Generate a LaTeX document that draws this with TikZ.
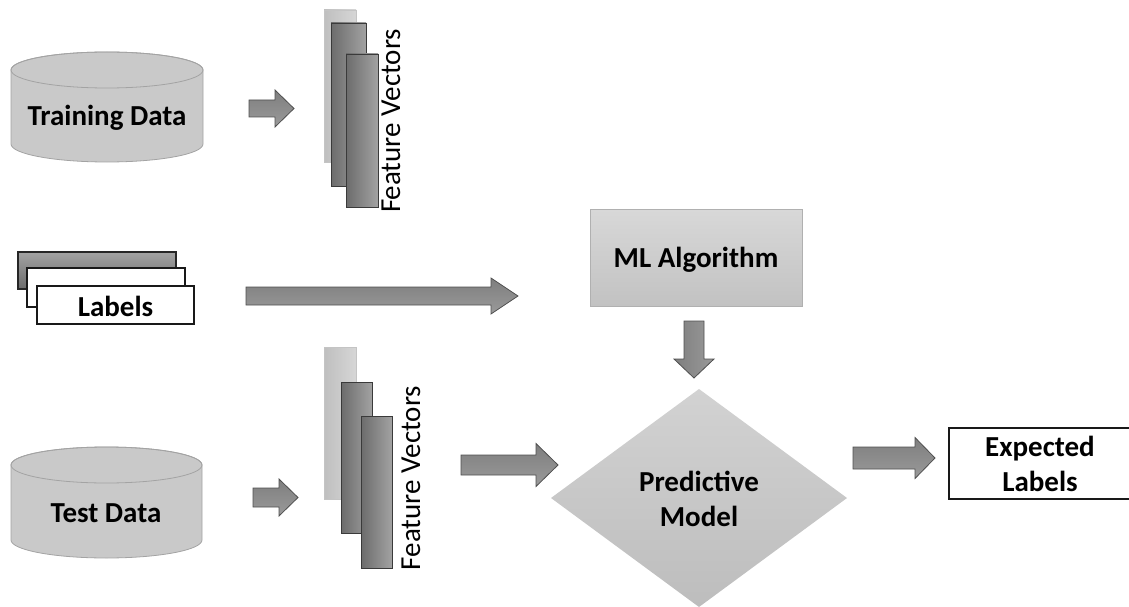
\documentclass[tikz,border=0pt]{standalone}
\usepackage{fontspec}
\setmainfont{Carlito}
\definecolor{arrowedge}{HTML}{4F4F4F}
\definecolor{arrowtop}{HTML}{7E7E7E}
\definecolor{arrowbot}{HTML}{9A9A9A}
\definecolor{cylfill}{HTML}{C9C9C9}
\definecolor{cyledge}{HTML}{A3A3A3}
\definecolor{fvdarkL}{HTML}{6C6C6C}
\definecolor{fvdarkR}{HTML}{A2A2A2}
\definecolor{fvedge}{HTML}{3A3A3A}
\definecolor{fvlightL}{HTML}{BFBFBF}
\definecolor{fvlightR}{HTML}{D6D6D6}
\definecolor{fvlightedge}{HTML}{C4C4C4}
\definecolor{mltop}{HTML}{D8D8D8}
\definecolor{mlbot}{HTML}{C2C2C2}
\definecolor{mledge}{HTML}{B0B0B0}
\definecolor{dmtop}{HTML}{D2D2D2}
\definecolor{dmbot}{HTML}{BDBDBD}
\definecolor{lbltop}{HTML}{A3A3A3}
\definecolor{lblbot}{HTML}{6B6B6B}
\tikzset{
  lbl/.style={font=\fontsize{29}{35}\selectfont\bfseries, align=center, text=black, inner sep=0pt},
  fvtext/.style={font=\fontsize{29}{35}\selectfont, rotate=90, inner sep=0pt, text=black},
  blk/.style={draw=arrowedge, line width=0.8pt, top color=arrowtop, bottom color=arrowbot},
  blkv/.style={draw=arrowedge, line width=0.8pt, left color=arrowtop, right color=arrowbot},
  cyl/.style={draw=cyledge, line width=0.8pt, fill=cylfill},
  fvdark/.style={draw=fvedge, line width=0.9pt, left color=fvdarkL, right color=fvdarkR},
  fvlight/.style={draw=fvlightedge, line width=0.8pt, left color=fvlightL, right color=fvlightR},
  whitebox/.style={draw=black!90, line width=1.3pt, fill=white},
  graybox/.style={draw=black!85, line width=1.3pt, top color=lbltop, bottom color=lblbot},
  mlbox/.style={draw=mledge, line width=0.8pt, top color=mltop, bottom color=mlbot},
  dmshape/.style={draw=none, top color=dmtop, bottom color=dmbot},
}
% horizontal block arrow: x start, x head start, x tip, y centre, shaft half, head half
\newcommand\hblockarrow[6]{%
  \path[blk] (#1,#4-#5) -- (#2,#4-#5) -- (#2,#4-#6) -- (#3,#4) -- (#2,#4+#6) -- (#2,#4+#5) -- (#1,#4+#5) -- cycle;}
% vertical block arrow: x centre, y start, y head start, y tip, shaft half, head half
\newcommand\vblockarrow[6]{%
  \path[blkv] (#1-#5,#2) -- (#1-#5,#3) -- (#1-#6,#3) -- (#1,#4) -- (#1+#6,#3) -- (#1+#5,#3) -- (#1+#5,#2) -- cycle;}
% cylinder: x left, x right, y top, y bottom, ry
\newcommand\cylshape[5]{%
  \path[cyl] (#1,#3+#5) -- (#1,#4-#5) arc[start angle=180, end angle=360, x radius={(#2-#1)/2*1pt}, y radius=#5pt]
    -- (#2,#3+#5) arc[start angle=0, end angle=180, x radius={(#2-#1)/2*1pt}, y radius=#5pt] -- cycle;
  \draw[draw=cyledge, line width=0.8pt] ({(#1+#2)/2},#3+#5) ellipse[x radius={(#2-#1)/2*1pt}, y radius=#5pt];}
\begin{document}
\begin{tikzpicture}[x=1pt, y=-1pt]
\useasboundingbox (0,0) rectangle (1129,607);
\clip (0,0) rectangle (1129,607);

% Training data
\cylshape{11}{203}{52}{162}{18}
\node[lbl] (train) at (107,118) {Training Data};
\hblockarrow{249}{275}{294}{108.5}{8.5}{18.5}

% Feature vectors (top)
\path[fvlight] (324,10) rectangle (356,162);
\path[fvdark] (331,23) rectangle (366,186);
\path[fvdark] (346,54) rectangle (378,207);
\node[fvtext] (fvtop) at (391,121) {Feature Vectors};

% Labels stack
\path[graybox] (18,252) rectangle (176,289);
\path[whitebox] (27,268) rectangle (185,307);
\path[whitebox] (37,286) rectangle (194,324);
\node[lbl] (labels) at (115.5,306) {Labels};
\hblockarrow{246}{491}{518}{296}{9}{18}

% Test data
\cylshape{11}{202}{447}{558}{18}
\node[lbl] (test) at (106,513) {Test Data};
\hblockarrow{253}{279}{298}{497.5}{9.5}{18.5}

% Feature vectors (bottom)
\path[fvlight] (324,347) rectangle (356,499);
\path[fvdark] (341,382) rectangle (372,533);
\path[fvdark] (361,416) rectangle (392,568);
\node[fvtext] (fvbot) at (411,478) {Feature Vectors};
\hblockarrow{461}{536}{558}{465}{10}{21.5}

% ML algorithm
\path[mlbox] (590,209) rectangle (802,306);
\node[lbl] (ml) at (696,260) {ML Algorithm};
\vblockarrow{694}{321}{359}{378}{10}{20}

% Predictive model
\path[dmshape] (699,389) -- (847,498) -- (699,607) -- (551,498) -- cycle;
\node[lbl] (pm) at (699,499) {Predictive\\Model};
\hblockarrow{853}{915}{935}{458}{11}{20.5}

% Expected labels
\path[draw=black!90, line width=1.3pt, fill=white] (949,428) rectangle (1140,499);
\node[lbl] (exp) at (1040,464) {Expected\\Labels};
\end{tikzpicture}
\end{document}
